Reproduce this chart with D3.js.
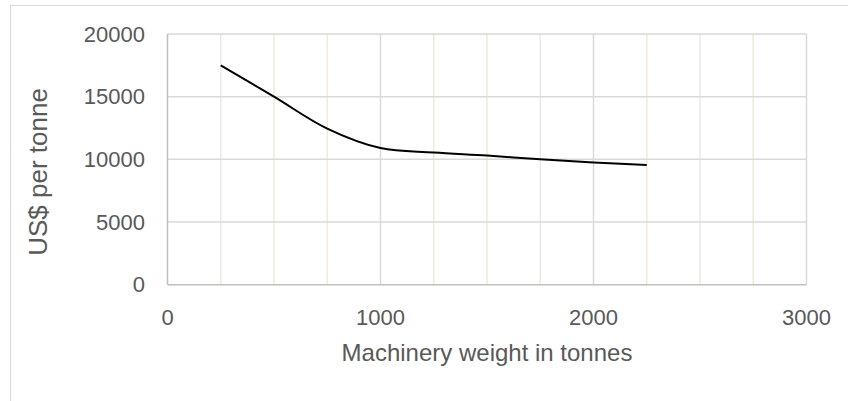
<!DOCTYPE html>
<html>
<head>
<meta charset="utf-8">
<script src="https://cdn.jsdelivr.net/npm/d3@7"></script>
<style>
  body { margin: 0; background: #fff; }
  text { font-family: "Liberation Sans", Arial, sans-serif; fill: #595959; }
</style>
</head>
<body>
<svg id="chart" width="848" height="401"></svg>
<script>
// data
var weights = [250, 500, 750, 1000, 1250, 1500, 1750, 2000, 2250];
var prices = [17500, 15000, 12450, 10900, 10550, 10300, 10000, 9750, 9550];
var xTicks = [0, 1000, 2000, 3000];
var yTicks = [0, 5000, 10000, 15000, 20000];
var xMinor = d3.range(0, 3001, 250);

var svg = d3.select('#chart');
var plotLeft = 167.5, plotRight = 806.5, plotTop = 34, plotBottom = 284.7;

// outer chart border (runs off the right and bottom edges)
svg.append('rect').attr('x', 10.5).attr('y', 5.5).attr('width', 900).attr('height', 500)
    .attr('fill', 'none').attr('stroke', '#d9d9d9');

var x = d3.scaleLinear().domain([0, 3000]).range([plotLeft, plotRight]);
var y = d3.scaleLinear().domain([0, 20000]).range([plotBottom, plotTop]);

// minor vertical gridlines
svg.append('g').selectAll('line').data(xMinor.filter(function(d) { return d % 1000 != 0; }))
    .enter().append('line')
    .attr('x1', function(d) { return x(d); }).attr('x2', function(d) { return x(d); })
    .attr('y1', plotTop).attr('y2', plotBottom)
    .attr('stroke', '#eeeadc').attr('stroke-width', 1.5);

// major vertical gridlines
svg.append('g').selectAll('line').data(xTicks.slice(1))
    .enter().append('line')
    .attr('x1', function(d) { return x(d); }).attr('x2', function(d) { return x(d); })
    .attr('y1', plotTop).attr('y2', plotBottom)
    .attr('stroke', '#d9d9d9').attr('stroke-width', 1.5);

// horizontal gridlines
svg.append('g').selectAll('line').data(yTicks.slice(1))
    .enter().append('line')
    .attr('x1', plotLeft).attr('x2', plotRight)
    .attr('y1', function(d) { return y(d); }).attr('y2', function(d) { return y(d); })
    .attr('stroke', '#d9d9d9').attr('stroke-width', 1.5);

// axis lines
svg.append('line').attr('x1', plotLeft).attr('x2', plotLeft).attr('y1', plotTop).attr('y2', plotBottom)
    .attr('stroke', '#bfbfbf').attr('stroke-width', 1.5);
svg.append('line').attr('x1', plotLeft).attr('x2', plotRight).attr('y1', plotBottom).attr('y2', plotBottom)
    .attr('stroke', '#bfbfbf').attr('stroke-width', 1.5);

// tick labels
svg.append('g').selectAll('text').data(yTicks).enter().append('text')
    .attr('x', 145).attr('y', function(d) { return y(d); })
    .attr('dy', '0.35em').attr('text-anchor', 'end').attr('font-size', 22)
    .text(function(d) { return d; });

svg.append('g').selectAll('text').data(xTicks).enter().append('text')
    .attr('x', function(d) { return x(d); }).attr('y', 317)
    .attr('dy', '0.35em').attr('text-anchor', 'middle').attr('font-size', 22)
    .text(function(d) { return d; });

// axis titles
svg.append('text').attr('x', (plotLeft + plotRight) / 2).attr('y', 361)
    .attr('text-anchor', 'middle').attr('font-size', 24)
    .text('Machinery weight in tonnes');

svg.append('text').attr('transform', 'translate(47,172) rotate(-90)')
    .attr('text-anchor', 'middle').attr('font-size', 26)
    .text('US$ per tonne');

// the curve
var line = d3.line()
    .x(function(d, i) { return x(weights[i]); })
    .y(function(d) { return y(d); })
    .curve(d3.curveCatmullRom.alpha(0.5));

svg.append('path').datum(prices).attr('d', line)
    .attr('fill', 'none').attr('stroke', '#000').attr('stroke-width', 2);
</script>
</body>
</html>
